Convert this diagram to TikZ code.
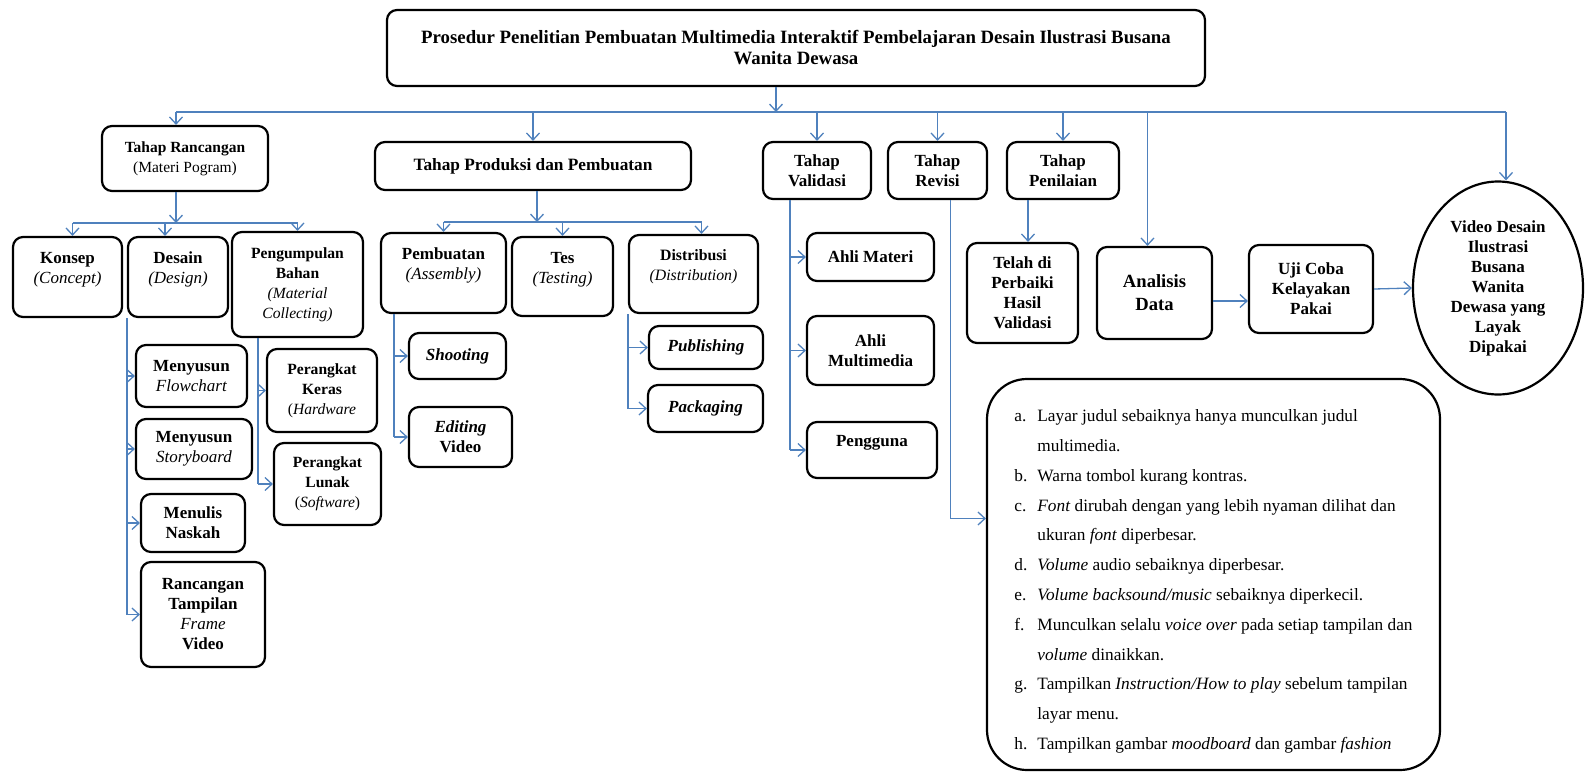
\documentclass[tikz,border=0pt]{standalone}
\usepackage{fontspec}
\setmainfont{Liberation Serif}
\usetikzlibrary{arrows.meta,shapes.geometric,positioning}
\definecolor{linkblue}{HTML}{4F81BD}
\newcommand{\lowpad}{\rule[-18pt]{0pt}{1pt}}
\begin{document}
\begin{tikzpicture}[x=1pt,y=-1pt,
	box/.style={draw,line width=2.2pt,rounded corners=10pt,align=center,inner sep=2pt,
		font=\fontsize{17}{20}\selectfont\bfseries},
	fs/.style={font=\fontsize{#1}{20}\selectfont\bfseries},
	sz/.style 2 args={minimum width=#1pt,minimum height=#2pt},
	link/.style={draw=linkblue,line width=1.3pt},
	arr/.style={link,-{Straight Barb[length=7pt,width=13pt]}}]
	\useasboundingbox (0,0) rectangle (1585,774);
	% judul
	\node[box,sz={818}{76},font=\fontsize{18.8}{21}\selectfont\bfseries] (title) at (796,48) {Prosedur Penelitian Pembuatan Multimedia Interaktif Pembelajaran Desain Ilustrasi Busana\\Wanita Dewasa};
	% tahap
	\node[box,fs=15.5,sz={166}{65}] (ranc) at (185,158.5) {Tahap Rancangan\\\textmd{(Materi Pogram)}};
	\node[box,fs=17.3,sz={316}{48}] (prod) at (533,166) {Tahap Produksi dan Pembuatan};
	\node[box,sz={108}{57}] (valid) at (817,170.5) {Tahap\\Validasi};
	\node[box,sz={99}{57}] (revisi) at (937.5,170.5) {Tahap\\Revisi};
	\node[box,sz={112}{57}] (nilai) at (1063,170.5) {Tahap\\Penilaian};
	% rancangan
	\node[box,sz={109}{80}] (konsep) at (67.5,277) {Konsep\\\textmd{\textit{(Concept)}}\lowpad};
	\node[box,sz={100}{80}] (desain) at (178,277) {Desain\\\textmd{\textit{(Design)}}\lowpad};
	\node[box,fs=15.6,sz={131}{105}] (kumpul) at (297.5,284.5) {Pengumpulan\\Bahan\\\textmd{\textit{(Material}}\\\textmd{\textit{Collecting)}}};
	\node[box,sz={111}{62}] (flow) at (191.5,376) {Menyusun\\\textmd{\textit{Flowchart}}};
	\node[box,sz={116}{60}] (story) at (194,449) {Menyusun\\\textmd{\textit{Storyboard}}};
	\node[box,sz={104}{58}] (naskah) at (193,523) {Menulis\\Naskah};
	\node[box,sz={124}{105}] (tampil) at (203,614.5) {Rancangan\\Tampilan\\\textmd{\textit{Frame}}\\Video};
	\node[box,fs=15.6,sz={110}{83}] (keras) at (322,390.5) {Perangkat\\Keras\\\textmd{(\textit{Hardware}}};
	\node[box,fs=15.6,sz={107}{82}] (lunak) at (327.5,484) {Perangkat\\Lunak\\\textmd{(\textit{Software})}};
	% produksi
	\node[box,sz={125}{80}] (pembuatan) at (443.5,273) {Pembuatan\\\textmd{\textit{(Assembly)}}\lowpad};
	\node[box,sz={101}{79}] (tes) at (562.5,276.5) {Tes\\\textmd{\textit{(Testing)}}\lowpad};
	\node[box,fs=15.8,sz={129}{78}] (distri) at (693.5,274) {Distribusi\\\textmd{\textit{(Distribution)}}\lowpad};
	\node[box,sz={97}{46}] (shoot) at (457.5,356) {\textit{Shooting}};
	\node[box,sz={103}{60}] (edit) at (460.5,437) {\textit{Editing}\\Video};
	\node[box,sz={114}{43}] (publish) at (706,347.5) {\textit{Publishing}};
	\node[box,sz={115}{47}] (pack) at (705.5,408.5) {\textit{Packaging}};
	% validasi
	\node[box,sz={127}{48}] (materi) at (870.5,257) {Ahli Materi};
	\node[box,sz={127}{69}] (multi) at (870.5,350.5) {Ahli\\Multimedia};
	\node[box,sz={130}{56}] (pengguna) at (872,450) {Pengguna\lowpad};
	% penilaian dan hasil
	\node[box,sz={111}{100}] (telah) at (1022.5,293) {Telah di\\Perbaiki\\Hasil\\Validasi};
	\node[box,sz={115}{92},font=\fontsize{18.6}{23}\selectfont\bfseries] (analisis) at (1154.5,293) {Analisis\\Data};
	\node[box,sz={124}{88}] (ujicoba) at (1311,289) {Uji Coba\\Kelayakan\\Pakai};
	\node[box,ellipse,rounded corners=0pt,inner sep=0pt,sz={170}{213}] (video) at (1498,288) {Video Desain\\Ilustrasi\\Busana\\Wanita\\Dewasa yang\\Layak\\Dipakai};
	% catatan revisi
	\node[draw,line width=2.2pt,rounded corners=40pt,sz={453}{391},inner sep=0pt,
		font=\fontsize{17.3}{29.8}\selectfont] (notes) at (1213.5,574.5) {%
		\begin{tabular}{@{}l@{\hspace{10pt}}l@{}}
			a. & Layar judul sebaiknya hanya munculkan judul\rule{0pt}{31pt}\\
			& multimedia.\\
			b. & Warna tombol kurang kontras.\\
			c. & \textit{Font} dirubah dengan yang lebih nyaman dilihat dan\\
			& ukuran \textit{font} diperbesar.\\
			d. & \textit{Volume} audio sebaiknya diperbesar.\\
			e. & \textit{Volume backsound/music} sebaiknya diperkecil.\\
			f. & Munculkan selalu \textit{voice over} pada setiap tampilan dan\\
			& \textit{volume} dinaikkan.\\
			g. & Tampilkan \textit{Instruction/How to play} sebelum tampilan\\
			& layar menu.\\
			h. & Tampilkan gambar \textit{moodboard} dan gambar \textit{fashion}
		\end{tabular}\hspace{26pt}};
	% garis utama
	\coordinate (busL) at (176,112);
	\coordinate (busR) at (1506,112);
	\coordinate (tOut) at ([xshift=-20pt]title.south);
	\coordinate (aTop) at ([xshift=-7pt]analisis.north);
	\draw[arr] (tOut) -- (tOut |- busL);
	\draw[link] (busL) -- (busR);
	\draw[arr] (busL) -- (busL |- ranc.north);
	\foreach \n in {prod,valid,revisi,nilai}
	\draw[arr] (\n.north |- busL) -- (\n.north);
	\draw[arr] (aTop |- busL) -- (aTop);
	\draw[arr] (busR) -- (busR |- video.north);
	% cabang rancangan
	\coordinate (rOut) at ([xshift=-9pt]ranc.south);
	\coordinate (rBus) at (0,223);
	\coordinate (kIn) at ([xshift=5pt]konsep.north);
	\coordinate (dIn) at ([xshift=-13pt]desain.north);
	\draw[arr] (rOut) -- (rOut |- rBus);
	\draw[link] (kIn |- rBus) -- (kumpul.north |- rBus);
	\draw[arr] (kIn |- rBus) -- (kIn);
	\draw[arr] (dIn |- rBus) -- (dIn);
	\draw[arr] (kumpul.north |- rBus) -- (kumpul.north);
	\draw[link] (desain.south west) -- (desain.south west |- tampil.west);
	\foreach \n in {flow,story,naskah,tampil}
	\draw[arr] (desain.south west |- \n.west) -- (\n.west);
	\coordinate (kpOut) at ([xshift=27pt]kumpul.south west);
	\draw[link] (kpOut) -- (kpOut |- lunak.west);
	\foreach \n in {keras,lunak}
	\draw[arr] (kpOut |- \n.west) -- (\n.west);
	% cabang produksi
	\coordinate (pOut) at ([xshift=4pt]prod.south);
	\coordinate (pBus) at (0,222);
	\coordinate (dsIn) at ([xshift=8pt]distri.north);
	\draw[arr] (pOut) -- (pOut |- pBus);
	\draw[link] (pembuatan.north |- pBus) -- (dsIn |- pBus);
	\draw[arr] (pembuatan.north |- pBus) -- (pembuatan.north);
	\draw[arr] (tes.north |- pBus) -- (tes.north);
	\draw[arr] (dsIn |- pBus) -- (dsIn);
	\coordinate (pbOut) at ([xshift=14pt]pembuatan.south west);
	\draw[link] (pbOut) -- (pbOut |- edit.west);
	\foreach \n in {shoot,edit}
	\draw[arr] (pbOut |- \n.west) -- (\n.west);
	\draw[link] (distri.south west) -- (distri.south west |- pack.west);
	\foreach \n in {publish,pack}
	\draw[arr] (distri.south west |- \n.west) -- (\n.west);
	% cabang validasi, revisi, penilaian
	\coordinate (vOut) at ([xshift=-27pt]valid.south);
	\draw[link] (vOut) -- (vOut |- pengguna.west);
	\foreach \n in {materi,multi,pengguna}
	\draw[arr] (vOut |- \n.west) -- (\n.west);
	\coordinate (rvOut) at ([xshift=13pt]revisi.south);
	\coordinate (nIn) at ([yshift=56pt]notes.west);
	\draw[arr] (rvOut) |- (nIn);
	\coordinate (nOut) at ([xshift=-35pt]nilai.south);
	\draw[arr] (nOut) -- (nOut |- telah.north);
	\coordinate (aOut) at ([yshift=-8pt]analisis.east);
	\draw[arr] (aOut) -- (aOut -| ujicoba.west);
	\draw[arr] (ujicoba.east) -- (video.west);
\end{tikzpicture}
\end{document}
